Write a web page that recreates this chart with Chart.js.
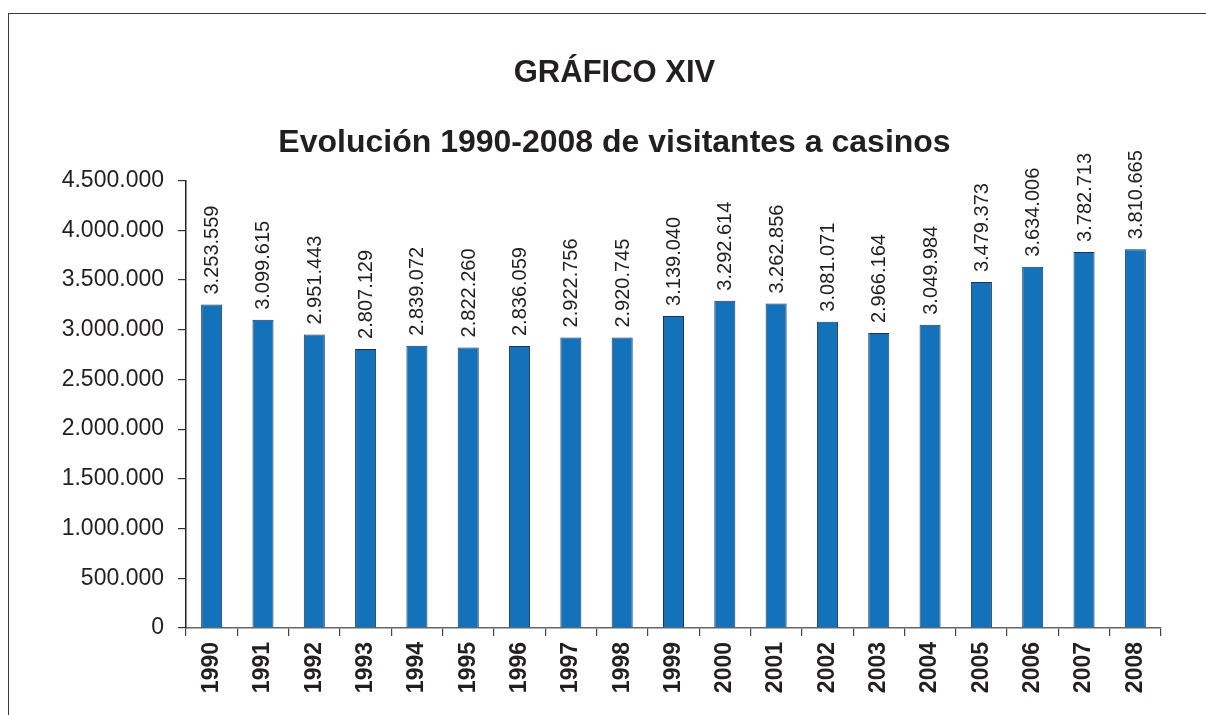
<!DOCTYPE html>
<html>
<head>
<meta charset="utf-8">
<script src="https://cdn.jsdelivr.net/npm/chart.js@4/dist/chart.umd.min.js"></script>
<style>
  html, body { margin: 0; padding: 0; background: #fff; }
  #wrap { position: relative; width: 1206px; height: 715px; }
  #marco { position: absolute; left: 8px; top: 13px; right: 0; bottom: 0;
           border-top: 1.5px solid #3a3a3a; border-left: 1.5px solid #3a3a3a; }
  canvas { position: absolute; left: 0; top: 0; }
</style>
</head>
<body>
<div id="wrap">
  <div id="marco"></div>
  <canvas id="grafico" width="1206" height="715"></canvas>
</div>
<script>
// Datos: años y visitantes a casinos
const anios = ['1990', '1991', '1992', '1993', '1994', '1995', '1996', '1997', '1998', '1999',
               '2000', '2001', '2002', '2003', '2004', '2005', '2006', '2007', '2008'];
const visitantes = [3253559, 3099615, 2951443, 2807129, 2839072, 2822260, 2836059, 2922756, 2920745, 3139040,
                    3292614, 3262856, 3081071, 2966164, 3049984, 3479373, 3634006, 3782713, 3810665];
const ejeMin = 0;
const ejeMax = 4500000;
const ejePaso = 500000;

const fuente = 'Liberation Sans, Arial, Helvetica, sans-serif';
const negro = '#231f20';

// separador de miles con punto
const formato = (v) => String(Math.round(v)).replace(/\B(?=(\d{3})+(?!\d))/g, '.');

// etiquetas verticales encima de cada barra
const etiquetas = {
  id: 'etiquetas',
  afterDatasetsDraw(chart) {
    const ctx = chart.ctx;
    const meta = chart.getDatasetMeta(0);
    ctx.save();
    ctx.font = '20px ' + fuente;
    ctx.fillStyle = negro;
    ctx.textAlign = 'left';
    ctx.textBaseline = 'middle';
    meta.data.forEach((bar, i) => {
      ctx.save();
      ctx.translate(bar.x + 1, bar.y - 10);
      ctx.rotate(-Math.PI / 2);
      ctx.fillText(formato(visitantes[i]), 0, 0);
      ctx.restore();
    });
    ctx.restore();
  }
};

const config = {
  type: 'bar',
  data: {
    labels: anios,
    datasets: [{
      data: visitantes,
      backgroundColor: '#1372ba',
      borderColor: '#1c3453',
      borderWidth: 1,
      barPercentage: 0.41,
      categoryPercentage: 1.0
    }]
  },
  options: {
    responsive: false,
    animation: false,
    layout: { padding: { left: 50, right: 27, top: 0, bottom: 0 } },
    scales: {
      x: {
        offset: true,
        grid: { display: true, drawOnChartArea: false, offset: true, tickLength: 8, color: '#444', lineWidth: 1.2 },
        border: { display: true, color: '#666', width: 1.5 },
        ticks: {
          color: negro,
          font: { family: fuente, size: 23, weight: 'bold' },
          minRotation: 90,
          maxRotation: 90,
          padding: 6,
          autoSkip: false
        },
        afterFit(scale) { scale.height = 87; }
      },
      y: {
        min: ejeMin,
        max: ejeMax,
        grid: { display: true, drawOnChartArea: false, tickLength: 8, color: '#333', lineWidth: 1.2 },
        border: { display: true, color: '#222', width: 1.5 },
        ticks: {
          stepSize: ejePaso,
          color: negro,
          font: { family: fuente, size: 23 },
          padding: 14,
          callback: (v) => formato(v)
        },
        afterFit(scale) { scale.width = 136; }
      },
      // eje vacío a la derecha, solo para dejar margen
      margen: {
        axis: 'y',
        position: 'right',
        display: true,
        grid: { display: false },
        border: { display: false },
        ticks: { display: false },
        afterFit(scale) { scale.width = 18; }
      }
    },
    plugins: {
      legend: { display: false },
      tooltip: { enabled: false },
      title: {
        display: true,
        text: 'GRÁFICO XIV',
        color: negro,
        font: { family: fuente, size: 31, weight: 'bold' },
        padding: { top: 55, bottom: 32 }
      },
      subtitle: {
        display: true,
        text: 'Evolución 1990-2008 de visitantes a casinos',
        color: negro,
        font: { family: fuente, size: 32, weight: 'bold' },
        padding: { top: 0, bottom: 18 }
      }
    }
  },
  plugins: [etiquetas]
};

const ctx = document.getElementById('grafico').getContext('2d');
const grafico = new Chart(ctx, config);
</script>
</body>
</html>
